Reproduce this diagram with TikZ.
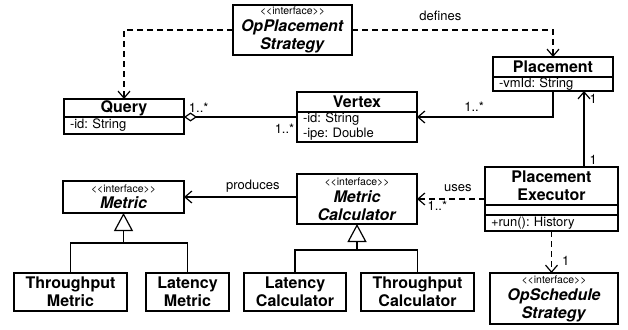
\documentclass[tikz,border=0pt]{standalone}
\usepackage{fontspec}
\setmainfont{TeX Gyre Heros}
\usepackage{tikz}
\usetikzlibrary{arrows.meta,positioning}
\frenchspacing
\newcommand{\iface}{{\fontsize{10.5}{12}\selectfont\mdseries <\kern0pt<interface>\kern0pt>}}
\tikzset{%
  umlbox/.style = {%
    rectangle,
    draw=black,
    line width=1.3pt,
    fill=white,
    outer sep=0pt,
    inner sep=1pt,
    align=center,
    font=\fontsize{16}{18}\selectfont\bfseries}}

\begin{document}
\begin{tikzpicture}[x=1pt, y=-1pt,
attrbox/.style={umlbox, inner xsep=6pt, inner ysep=0pt, align=left, font=\fontsize{13}{15}\selectfont},
link/.style={line width=1.2pt},
nav/.style={link, -{Straight Barb[length=7pt,width=12pt]}},
dep/.style={nav, dash pattern=on 6pt off 4pt},
inherit/.style={link, -{Triangle[open, length=18pt, width=19pt]}},
agg/.style={link, {Diamond[open, length=13pt, width=9pt]}-},
lbl/.style={font=\fontsize{13}{15}\selectfont, inner sep=1pt},
]

\useasboundingbox (0,0) rectangle (628,329);

% interfaces
\node[umlbox, minimum width=119pt, minimum height=50pt] (opplacement)  at (292.5,30)   {\iface\\[-1pt]\textit{OpPlacement}\\\textit{Strategy}};
\node[umlbox, minimum width=128pt, minimum height=51pt] (opschedule)   at (554,298.5)  {\iface\\[-1pt]\textit{OpSchedule}\\\textit{Strategy}};
\node[umlbox, minimum width=120pt, minimum height=50pt] (metriccalc)   at (357,199)    {\iface\\[-1pt]\textit{Metric}\\\textit{Calculator}};
\node[umlbox, minimum width=121pt, minimum height=32pt] (metric)       at (123.5,197)  {\iface\\[-2pt]\textit{Metric}};

% classes
\node[umlbox, minimum width=120pt, minimum height=18pt] (query)        at (124,108)    {Query};
\node[attrbox, text width=108pt, minimum height=17pt, below=0pt of query] (query_attr) {-id: String};

\node[umlbox, minimum width=120pt, minimum height=20pt] (vertex)       at (357,102)    {Vertex};
\node[attrbox, text width=108pt, minimum height=30pt, below=0pt of vertex] (vertex_attr) {-id: String\\-ipe: Double};

\node[umlbox, minimum width=120pt, minimum height=20pt] (placement)    at (553,67)     {Placement};
\node[attrbox, text width=108pt, minimum height=14pt, below=0pt of placement] (placement_attr) {-vmId: String};

\node[umlbox, minimum width=133pt, minimum height=38pt] (executor)     at (551.5,186)  {Placement\\Executor};
\node[attrbox, text width=121pt, minimum height=10pt, below=0pt of executor] (executor_attr) {};
\node[attrbox, text width=121pt, minimum height=16pt, below=0pt of executor_attr] (executor_ops) {+run(): History};

\node[umlbox, minimum width=113pt, minimum height=38pt] (tputmetric)   at (70.5,292)   {Throughput\\Metric};
\node[umlbox, minimum width=83pt,  minimum height=38pt] (latmetric)    at (187.5,292)  {Latency\\Metric};
\node[umlbox, minimum width=102pt, minimum height=38pt] (latcalc)      at (295,292)    {Latency\\Calculator};
\node[umlbox, minimum width=113pt, minimum height=38pt] (tputcalc)     at (417.5,292)  {Throughput\\Calculator};

\coordinate (metric_join) at (123.5,243);
\coordinate (calc_join)   at (357,250);

% associations
\draw[dep] (opplacement.west) -| (query.north);
\draw[dep] (opplacement.east) -| node[pos=0.22, above=8pt, lbl] {defines} (placement.north);

\draw[agg] (query.south east) -- node[pos=0.03, anchor=south west, yshift=3pt, lbl] {1..*} node[pos=0.99, anchor=north east, yshift=-5pt, lbl] {1..*} (query.south east -| vertex_attr.west);
\draw[nav] (placement_attr.south) |- node[pos=0.79, above=4pt, lbl] {1..*} (vertex_attr.east |- query.south east);

\draw[nav] ([xshift=32.5pt]executor.north) -- node[pos=0.1, right=4pt, lbl] {1} node[pos=0.9, right=4pt, lbl] {1} ([xshift=31pt]placement_attr.south);
\draw[dep] (executor.west |- metriccalc.east) -- node[pos=0.4, above=6pt, lbl] {uses} node[pos=0.7, below=0pt, lbl] {1..*} (metriccalc.east);
\draw[dep] (executor_ops.south) -- node[pos=0.7, right=9pt, lbl] {1} (opschedule.north -| executor_ops.south);

\draw[nav] (metriccalc.west |- metric.east) -- node[pos=0.39, above=3pt, lbl] {produces} (metric.east);

% generalisation
\draw[inherit] (metric_join) -- (metric.south);
\draw[link] (tputmetric.north) |- (metric_join) -| (latmetric.north);
\draw[inherit] (calc_join) -- (metriccalc.south);
\draw[link] (latcalc.north) |- (calc_join) -| (tputcalc.north);

\end{tikzpicture}
\end{document}
